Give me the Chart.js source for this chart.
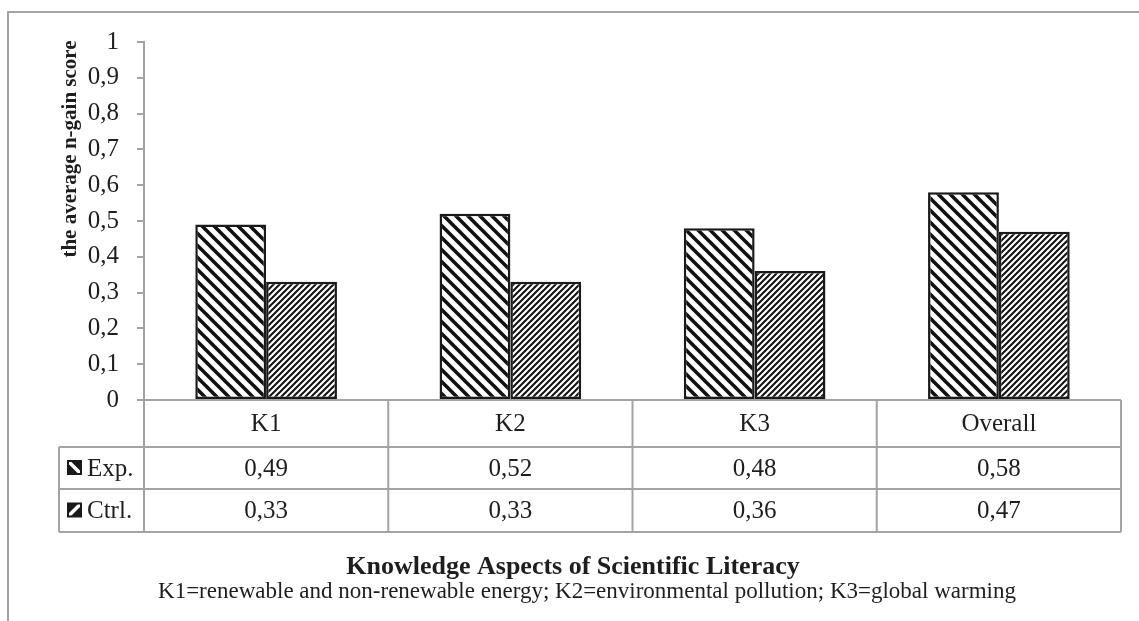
<!DOCTYPE html>
<html>
<head>
<meta charset="utf-8">
<script src="https://cdn.jsdelivr.net/npm/chart.js@4.4.1/dist/chart.umd.min.js"></script>
<style>
  html, body { margin: 0; padding: 0; background: #fff; }
  #wrap { width: 1139px; height: 621px; position: relative; }
</style>
</head>
<body>
<div id="wrap"><canvas id="chart"></canvas></div>
<script>
// Data
const categories = ["K1", "K2", "K3", "Overall"];
const seriesNames = ["Exp.", "Ctrl."];
const expValues = [0.49, 0.52, 0.48, 0.58];
const ctrlValues = [0.33, 0.33, 0.36, 0.47];
const yTicks = [0, 0.1, 0.2, 0.3, 0.4, 0.5, 0.6, 0.7, 0.8, 0.9, 1];
const yTitle = "the average n-gain score";
const xTitle = "Knowledge Aspects of Scientific Literacy";
const xNote = "K1=renewable and non-renewable energy; K2=environmental pollution; K3=global warming";

const textColor = "#1e1e1e";
const lineGrey = "#a3a3a3";
const serif = "'Liberation Serif', 'DejaVu Serif', serif";

// comma decimals like the original
function fmt(v, digits) {
    let s = digits === undefined ? String(Number(v.toFixed(1))) : v.toFixed(digits);
    return s.replace(".", ",");
}

// Hatch patterns
function makeHatch(size, lineW, dir) {
    let c = document.createElement("canvas");
    c.width = size;
    c.height = size;
    let g = c.getContext("2d");
    g.fillStyle = "#fff";
    g.fillRect(0, 0, size, size);
    g.strokeStyle = "#111";
    g.lineWidth = lineW;
    g.beginPath();
    if (dir === "back") {
        g.moveTo(-1, -1); g.lineTo(size + 1, size + 1);
        g.moveTo(-size - 1, -1); g.lineTo(1, size + 1);
        g.moveTo(size - 1, -1); g.lineTo(2 * size + 1, size + 1);
    } else {
        g.moveTo(-1, size + 1); g.lineTo(size + 1, -1);
        g.moveTo(-size - 1, size + 1); g.lineTo(1, -1);
        g.moveTo(size - 1, size + 1); g.lineTo(2 * size + 1, -1);
    }
    g.stroke();
    return g.createPattern(c, "repeat");
}

const expPattern = makeHatch(12, 3.6, "back");
const ctrlPattern = makeHatch(6, 2, "fwd");

// Legend key inside the table
function drawKey(ctx, x, y, dir) {
    let s = 15;
    ctx.save();
    ctx.fillStyle = "#1a1a1a";
    ctx.fillRect(x, y, s, s);
    ctx.beginPath();
    ctx.rect(x + 2, y + 2, s - 4, s - 4);
    ctx.clip();
    ctx.strokeStyle = "#fff";
    ctx.lineWidth = 3.5;
    ctx.beginPath();
    if (dir === "back") {
        ctx.moveTo(x, y); ctx.lineTo(x + s, y + s);
    } else {
        ctx.moveTo(x, y + s); ctx.lineTo(x + s, y);
    }
    ctx.stroke();
    ctx.restore();
}

function hLine(ctx, x1, x2, y) {
    ctx.beginPath(); ctx.moveTo(x1, y); ctx.lineTo(x2, y); ctx.stroke();
}
function vLine(ctx, x, y1, y2) {
    ctx.beginPath(); ctx.moveTo(x, y1); ctx.lineTo(x, y2); ctx.stroke();
}

// Data table, titles and frame
const tablePlugin = {
    id: "dataTable",
    afterDraw(chart) {
        let ctx = chart.ctx;
        let area = chart.chartArea;
        let xs = chart.scales.x;
        let step = xs.getPixelForValue(1) - xs.getPixelForValue(0);
        let rowY = [area.bottom, 447, 489, 532];
        let legendLeft = 59;

        ctx.save();
        ctx.strokeStyle = lineGrey;
        ctx.lineWidth = 2;
        hLine(ctx, area.left, area.right, rowY[0]);
        hLine(ctx, legendLeft, area.right, rowY[1]);
        hLine(ctx, legendLeft, area.right, rowY[2]);
        hLine(ctx, legendLeft, area.right, rowY[3]);
        vLine(ctx, legendLeft, rowY[1], rowY[3]);
        categories.forEach((c, i) => {
            let left = xs.getPixelForValue(i) - step / 2;
            vLine(ctx, left, rowY[0], rowY[3]);
        });
        vLine(ctx, area.right, rowY[0], rowY[3]);

        // table text
        ctx.fillStyle = textColor;
        ctx.font = "25px " + serif;
        ctx.textAlign = "center";
        ctx.textBaseline = "middle";
        let rows = [expValues, ctrlValues];
        categories.forEach((c, i) => {
            let cx = xs.getPixelForValue(i);
            ctx.fillText(c, cx, (rowY[0] + rowY[1]) / 2 + 1);
            rows.forEach((vals, r) => {
                ctx.fillText(fmt(vals[i], 2), cx, (rowY[r + 1] + rowY[r + 2]) / 2 + 1);
            });
        });

        // series names with keys
        ctx.textAlign = "left";
        seriesNames.forEach((name, r) => {
            let cy = (rowY[r + 1] + rowY[r + 2]) / 2;
            drawKey(ctx, 67, cy - 8, r === 0 ? "back" : "fwd");
            ctx.fillStyle = textColor;
            ctx.fillText(name, 87, cy + 1);
        });

        // axis titles
        ctx.textAlign = "center";
        ctx.font = "bold 26px " + serif;
        ctx.fillText(xTitle, 573, 567);
        ctx.font = "23px " + serif;
        ctx.fillText(xNote, 587, 592);

        ctx.save();
        ctx.translate(71, 149);
        ctx.rotate(-Math.PI / 2);
        ctx.font = "bold 21px " + serif;
        ctx.fillText(yTitle, 0, 0);
        ctx.restore();

        // outer frame
        ctx.strokeStyle = lineGrey;
        ctx.lineWidth = 2;
        ctx.beginPath();
        ctx.moveTo(8, 621);
        ctx.lineTo(8, 12);
        ctx.lineTo(1139, 12);
        ctx.stroke();
        ctx.restore();
    }
};

new Chart(document.getElementById("chart"), {
    type: "bar",
    data: {
        labels: categories,
        datasets: [
            {
                label: seriesNames[0],
                data: expValues,
                backgroundColor: expPattern,
                borderColor: "#1a1a1a",
                borderWidth: 2.5,
                borderSkipped: false
            },
            {
                label: seriesNames[1],
                data: ctrlValues,
                backgroundColor: ctrlPattern,
                borderColor: "#1a1a1a",
                borderWidth: 2.5,
                borderSkipped: false
            }
        ]
    },
    options: {
        responsive: true,
        maintainAspectRatio: false,
        animation: false,
        datasets: {
            bar: { barPercentage: 1, categoryPercentage: 0.58 }
        },
        layout: {
            padding: { top: 42, bottom: 221, left: 0, right: 18 }
        },
        plugins: {
            legend: { display: false },
            tooltip: { enabled: false }
        },
        scales: {
            x: { display: false },
            y: {
                min: 0,
                max: 1,
                afterFit(scale) { scale.width = 144; },
                afterBuildTicks(scale) {
                    scale.ticks = yTicks.map(v => ({ value: v }));
                },
                border: { color: lineGrey, width: 2 },
                grid: {
                    drawOnChartArea: false,
                    drawTicks: true,
                    tickLength: 7,
                    color: lineGrey,
                    lineWidth: 2
                },
                ticks: {
                    color: textColor,
                    font: { family: serif, size: 25 },
                    padding: 18,
                    callback: v => fmt(v)
                }
            }
        }
    },
    plugins: [tablePlugin]
});
</script>
</body>
</html>
